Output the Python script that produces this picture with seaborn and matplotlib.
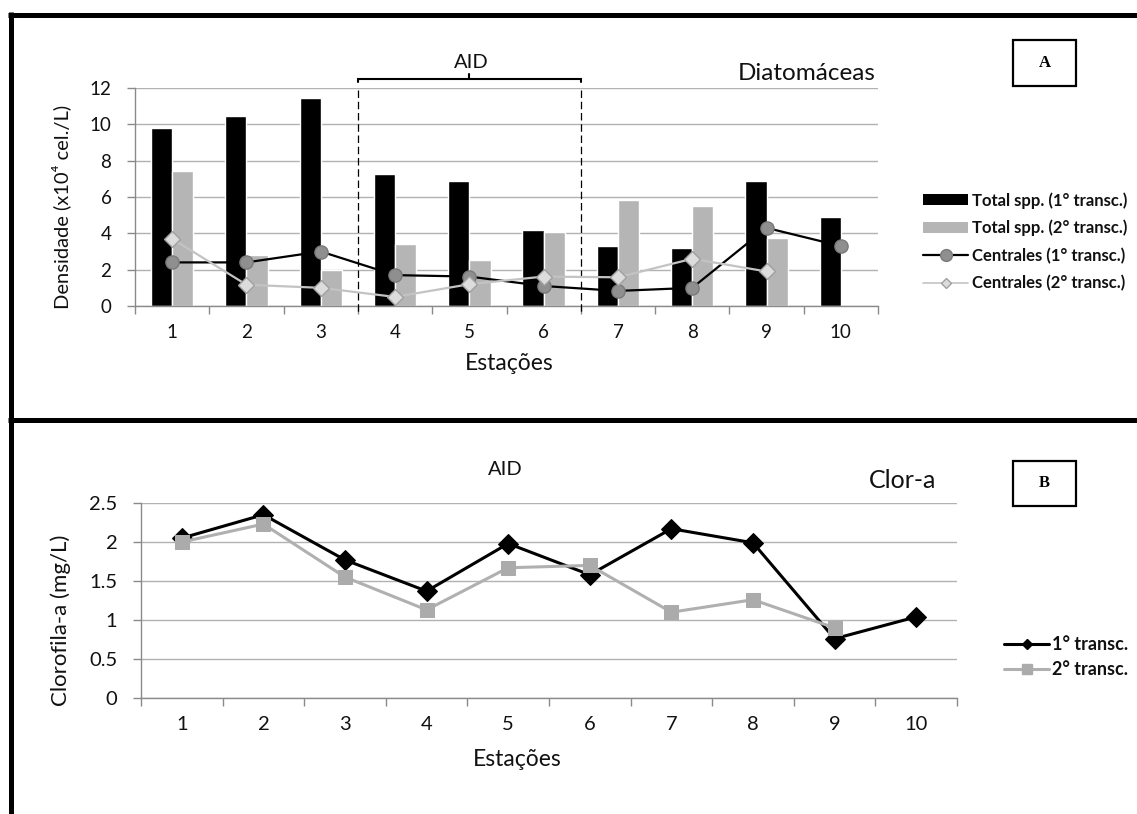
import numpy as np
import pandas as pd
import matplotlib
matplotlib.use("Agg")
import matplotlib.pyplot as plt
import seaborn as sns
from matplotlib.lines import Line2D
from matplotlib.patches import Rectangle, Patch

# ---------------- data ----------------
stations = [1, 2, 3, 4, 5, 6, 7, 8, 9, 10]
total_1 = [9.8, 10.45, 11.45, 7.25, 6.9, 4.2, 3.33, 3.2, 6.9, 4.9]
total_2 = [7.42, 2.8, 2.0, 3.4, 2.52, 4.1, 5.83, 5.5, 3.75, np.nan]
centrales_1 = [2.4, 2.4, 3.0, 1.7, 1.62, 1.1, 0.83, 1.0, 4.3, 3.3]
centrales_2 = [3.7, 1.17, 1.0, 0.5, 1.2, 1.62, 1.58, 2.6, 1.9, np.nan]
clor_1 = [2.05, 2.35, 1.77, 1.37, 1.98, 1.58, 2.17, 1.99, 0.76, 1.04]
clor_2 = [2.0, 2.23, 1.55, 1.13, 1.67, 1.70, 1.10, 1.26, 0.90, np.nan]
aid_first, aid_last = 4, 6

lab_t1 = "Total spp. (1° transc.)"
lab_t2 = "Total spp. (2° transc.)"
lab_c1 = "Centrales (1° transc.)"
lab_c2 = "Centrales (2° transc.)"
lab_b1 = "1° transc."
lab_b2 = "2° transc."

# ---------------- style ----------------
BLACK = "#000000"
GRAY_BAR = "#b5b5b5"
GRID = "#b2b2b2"
AXIS = "#8a8a8a"

sns.set_theme(style="white")
plt.rcParams['font.family'] = ['Lato', 'DejaVu Sans']
plt.rcParams['text.color'] = '#111111'
plt.rcParams['xtick.color'] = '#111111'
plt.rcParams['ytick.color'] = '#111111'

W, H = 1137, 814
fig = plt.figure(figsize=(W / 100, H / 100), dpi=100)
fig.patch.set_facecolor('white')

def fx(px):
    return px / W

def fy(py):
    return 1 - py / H

ax1 = fig.add_axes([fx(135), fy(306), fx(878) - fx(135), fy(88) - fy(306)])
ax2 = fig.add_axes([fx(141), fy(698), fx(957) - fx(141), fy(503) - fy(698)])

# ---------------- panel A ----------------
bars = pd.DataFrame({
    'Estação': stations * 2,
    'Densidade': total_1 + total_2,
    'Série': [lab_t1] * len(stations) + [lab_t2] * len(stations),
})
sns.barplot(data=bars, x='Estação', y='Densidade', hue='Série',
            palette=[BLACK, GRAY_BAR], native_scale=True, width=0.57, gap=0,
            dodge=True, saturation=1, errorbar=None, legend=False, ax=ax1,
            zorder=2)

sns.lineplot(x=stations, y=centrales_1, ax=ax1, color=BLACK, linewidth=1.6,
             marker='o', markersize=9.5, markerfacecolor='#8f8f8f',
             markeredgecolor='#7a7a7a', markeredgewidth=1, zorder=4,
             legend=False)
sns.lineplot(x=stations, y=centrales_2, ax=ax1, color='#c3c3c3', linewidth=1.6,
             marker='D', markersize=8.5, markerfacecolor='#dcdcdc',
             markeredgecolor='#a0a0a0', markeredgewidth=1, zorder=5,
             legend=False)

ax1.set_ylim(0, 12)
ax1.set_yticks([0, 2, 4, 6, 8, 10, 12])

# AID region
lo, hi = aid_first - 0.5, aid_last + 0.5
for xb in (lo, hi):
    ax1.plot([xb, xb], [11.9, -0.4], color=BLACK, lw=0.9, ls=(0, (6, 3)),
             clip_on=False, zorder=3)
ax1.plot([lo, lo, hi, hi], [12.33, 12.5, 12.5, 12.33], color=BLACK, lw=1.5,
         clip_on=False, solid_joinstyle='miter')
mid = (lo + hi) / 2
ax1.plot([mid, mid], [12.5, 12.77], color=BLACK, lw=1.5, clip_on=False)

fig.text(fx(471), fy(62), "AID", ha='center', va='center', fontsize=14.5)
fig.text(fx(876), fy(73), "Diatomáceas", ha='right', va='center', fontsize=17.5)
fig.text(fx(509), fy(363), "Estações", ha='center', va='center', fontsize=16.5)
fig.text(fx(61), fy(207), "Densidade (x10⁴ cel./L)", ha='center', va='center',
         rotation=90, fontsize=14.5)

# ---------------- panel B ----------------
sns.lineplot(x=stations, y=clor_1, ax=ax2, color=BLACK, linewidth=2.2,
             marker='D', markersize=10, markerfacecolor=BLACK,
             markeredgecolor=BLACK, zorder=4, legend=False)
sns.lineplot(x=stations, y=clor_2, ax=ax2, color='#b0b0b0', linewidth=2.2,
             marker='s', markersize=10.5, markerfacecolor='#ababab',
             markeredgecolor='#ababab', zorder=5, legend=False)
ax2.set_ylim(0, 2.5)
ax2.set_yticks([0, 0.5, 1, 1.5, 2, 2.5])
ax2.set_yticklabels(['0', '0.5', '1', '1.5', '2', '2.5'])

fig.text(fx(505), fy(470), "AID", ha='center', va='center', fontsize=14.5)
fig.text(fx(936), fy(480), "Clor-a", ha='right', va='center', fontsize=18)
fig.text(fx(517), fy(760), "Estações", ha='center', va='center', fontsize=16.5)
fig.text(fx(61), fy(620), "Clorofila-a (mg/L)", ha='center', va='center',
         rotation=90, fontsize=16)

# ---------------- axes styling ----------------
for ax, tfs in ((ax1, 13.5), (ax2, 14.5)):
    ax.set_facecolor('none')
    for s in ('top', 'right'):
        ax.spines[s].set_visible(False)
    for s in ('left', 'bottom'):
        ax.spines[s].set_color(AXIS)
        ax.spines[s].set_linewidth(1)
    ax.grid(axis='y', color=GRID, linewidth=1)
    ax.grid(axis='x', visible=False)
    ax.set_axisbelow(True)
    ax.set_xlim(0.5, 10.5)
    ax.set_xticks(stations)
    ax.set_xticklabels([str(s) for s in stations])
    ax.set_xticks(np.arange(0.5, len(stations) + 1, 1), minor=True)
    ax.tick_params(axis='x', which='major', length=0, pad=13, labelsize=tfs)
    ax.tick_params(axis='x', which='minor', length=6, color=AXIS,
                   direction='out', width=1, bottom=True)
    ax.tick_params(axis='y', length=6, color=AXIS, direction='out', width=1,
                   pad=11, labelsize=tfs, left=True)
    ax.set_xlabel('')
    ax.set_ylabel('')

# ---------------- legends ----------------
h_a = [
    Patch(facecolor=BLACK, edgecolor='none', label=lab_t1),
    Patch(facecolor=GRAY_BAR, edgecolor='none', label=lab_t2),
    Line2D([], [], color=BLACK, lw=1.6, marker='o', markersize=8.5,
           markerfacecolor='#8f8f8f', markeredgecolor='#7a7a7a', label=lab_c1),
    Line2D([], [], color='#c3c3c3', lw=1.2, marker='D', markersize=5.5,
           markerfacecolor='#dcdcdc', markeredgecolor='#a0a0a0', label=lab_c2),
]
fig.legend(handles=h_a, loc='upper left', bbox_to_anchor=(fx(923), fy(192)),
           frameon=False, handlelength=2.7, handleheight=0.68,
           handletextpad=0.25, labelspacing=0.68, borderpad=0, borderaxespad=0,
           prop={'size': 12, 'weight': 'bold'})

h_b = [
    Line2D([], [], color=BLACK, lw=2.2, marker='D', markersize=5.5,
           markerfacecolor=BLACK, markeredgecolor=BLACK, label=lab_b1),
    Line2D([], [], color='#b0b0b0', lw=2.2, marker='s', markersize=7,
           markerfacecolor='#ababab', markeredgecolor='#ababab', label=lab_b2),
]
fig.legend(handles=h_b, loc='upper left', bbox_to_anchor=(fx(1004), fy(636)),
           frameon=False, handlelength=2.5, handletextpad=0.15,
           labelspacing=0.45, borderpad=0, borderaxespad=0,
           prop={'size': 13, 'weight': 'bold'})

# ---------------- frame & boxes ----------------
lw_frame = 3.6
fig.add_artist(Line2D([fx(8), 1.0], [fy(14.5), fy(14.5)], lw=lw_frame,
                      color=BLACK, transform=fig.transFigure,
                      solid_capstyle='butt'))
fig.add_artist(Line2D([fx(10.5), fx(10.5)], [fy(12), 0.0], lw=lw_frame,
                      color=BLACK, transform=fig.transFigure,
                      solid_capstyle='butt'))
fig.add_artist(Line2D([fx(8), 1.0], [fy(419.5), fy(419.5)], lw=lw_frame,
                      color=BLACK, transform=fig.transFigure,
                      solid_capstyle='butt'))

for (x0, y0, x1, y1, txt) in ((1013, 40, 1076, 86, 'A'),
                              (1013, 461, 1076, 506, 'B')):
    fig.add_artist(Rectangle((fx(x0), fy(y1)), fx(x1) - fx(x0),
                             fy(y0) - fy(y1), transform=fig.transFigure,
                             facecolor='white', edgecolor=BLACK, lw=1.6))
    fig.text(fx((x0 + x1) / 2), fy((y0 + y1) / 2), txt, ha='center',
             va='center', fontsize=12, fontweight='bold',
             family=['Liberation Serif', 'DejaVu Serif'], color=BLACK)

fig.savefig('out.png', dpi=100, facecolor='white')
